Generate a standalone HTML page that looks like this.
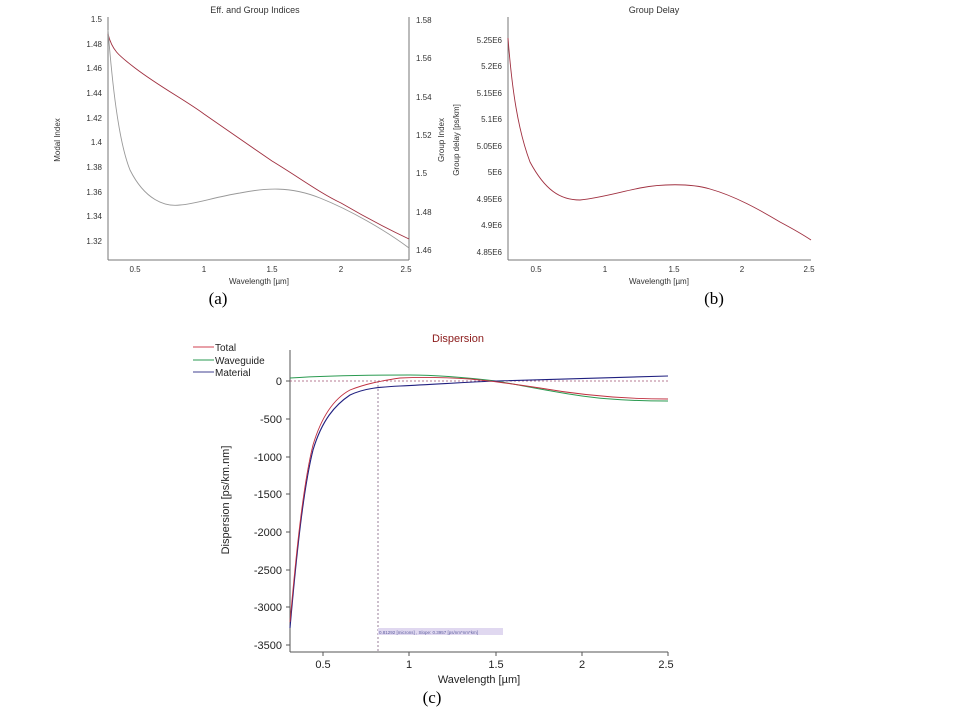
<!DOCTYPE html>
<html><head><style>
body{margin:0;background:#fff;}
svg{display:block;font-family:"Liberation Sans",sans-serif;}
</style></head><body>
<svg width="955" height="708" viewBox="0 0 955 708" xmlns="http://www.w3.org/2000/svg">
<rect width="955" height="708" fill="#fff"/>
<!-- Panel a -->
<text x="255" y="13" font-size="9" text-anchor="middle" fill="#333">Eff. and Group Indices</text>
<g stroke="#777" stroke-width="1" fill="none">
<line x1="108" y1="17" x2="108" y2="260"/><line x1="108" y1="260" x2="409" y2="260"/>
<line x1="409" y1="17" x2="409" y2="260"/>
</g>
<g font-size="8" fill="#333" text-anchor="end">
<text x="102" y="22">1.5</text><text x="102" y="47">1.48</text><text x="102" y="71">1.46</text><text x="102" y="96">1.44</text><text x="102" y="121">1.42</text><text x="102" y="145">1.4</text><text x="102" y="170">1.38</text><text x="102" y="195">1.36</text><text x="102" y="219">1.34</text><text x="102" y="244">1.32</text>
</g>
<g font-size="8" fill="#333">
<text x="416" y="23">1.58</text><text x="416" y="61">1.56</text><text x="416" y="100">1.54</text><text x="416" y="138">1.52</text><text x="416" y="176">1.5</text><text x="416" y="215">1.48</text><text x="416" y="253">1.46</text>
</g>
<g font-size="8" fill="#333" text-anchor="middle">
<text x="135" y="272">0.5</text><text x="204" y="272">1</text><text x="272" y="272">1.5</text><text x="341" y="272">2</text><text x="406" y="272">2.5</text>
<text x="259" y="284">Wavelength [µm]</text>
</g>
<text transform="translate(60,140) rotate(-90)" font-size="8" fill="#333" text-anchor="middle">Modal Index</text>
<text transform="translate(444,140) rotate(-90)" font-size="8" fill="#333" text-anchor="middle">Group Index</text>
<path d="M108,34 C112,50 118,55 135,68 C160,87 185,100 204,114 C230,132 250,146 272,161 C300,178 320,193 341,203 C370,220 390,230 409,239" stroke="#a03040" fill="none" stroke-width="0.9"/>
<path d="M108,30 C112,80 118,140 130,170 C145,200 165,207 180,205 C195,204 215,197 240,193 C265,188 290,186 320,198 C350,210 385,230 409,248" stroke="#999" fill="none" stroke-width="0.9"/>
<text x="218" y="304" font-family="Liberation Serif,serif" font-size="17" text-anchor="middle">(a)</text>
<!-- Panel b -->
<text x="654" y="13" font-size="9" text-anchor="middle" fill="#333">Group Delay</text>
<g stroke="#777" fill="none"><line x1="508" y1="17" x2="508" y2="260"/><line x1="508" y1="260" x2="811" y2="260"/></g>
<g font-size="8" fill="#333" text-anchor="end">
<text x="502" y="43">5.25E6</text><text x="502" y="69">5.2E6</text><text x="502" y="96">5.15E6</text><text x="502" y="122">5.1E6</text><text x="502" y="149">5.05E6</text><text x="502" y="175">5E6</text><text x="502" y="202">4.95E6</text><text x="502" y="228">4.9E6</text><text x="502" y="255">4.85E6</text>
</g>
<g font-size="8" fill="#333" text-anchor="middle">
<text x="536" y="272">0.5</text><text x="605" y="272">1</text><text x="674" y="272">1.5</text><text x="742" y="272">2</text><text x="809" y="272">2.5</text>
<text x="659" y="284">Wavelength [µm]</text>
</g>
<text transform="translate(459,140) rotate(-90)" font-size="8" fill="#333" text-anchor="middle">Group delay [ps/km]</text>
<path d="M508,38 C512,90 518,130 530,162 C545,190 560,200 580,200 C600,198 620,192 640,188 C660,184 690,183 710,189 C735,196 760,210 780,222 C795,230 805,236 811,240" stroke="#a03040" fill="none" stroke-width="0.9"/>
<text x="714" y="304" font-family="Liberation Serif,serif" font-size="17" text-anchor="middle">(b)</text>
<!-- Panel c -->
<text x="458" y="342" font-size="11" text-anchor="middle" fill="#8b1a1a">Dispersion</text>
<g stroke="#555" fill="none"><line x1="290" y1="350" x2="290" y2="652"/><line x1="290" y1="652" x2="668" y2="652"/></g>
<g stroke="#555"><line x1="286" y1="381" x2="290" y2="381"/><line x1="286" y1="419" x2="290" y2="419"/><line x1="286" y1="457" x2="290" y2="457"/><line x1="286" y1="494" x2="290" y2="494"/><line x1="286" y1="532" x2="290" y2="532"/><line x1="286" y1="570" x2="290" y2="570"/><line x1="286" y1="607" x2="290" y2="607"/><line x1="286" y1="645" x2="290" y2="645"/>
<line x1="323" y1="652" x2="323" y2="656"/><line x1="409" y1="652" x2="409" y2="656"/><line x1="496" y1="652" x2="496" y2="656"/><line x1="582" y1="652" x2="582" y2="656"/><line x1="668" y1="652" x2="668" y2="656"/></g>
<g font-size="11" fill="#222" text-anchor="end">
<text x="282" y="385">0</text><text x="282" y="423">-500</text><text x="282" y="461">-1000</text><text x="282" y="498">-1500</text><text x="282" y="536">-2000</text><text x="282" y="574">-2500</text><text x="282" y="611">-3000</text><text x="282" y="649">-3500</text>
</g>
<g font-size="11" fill="#222" text-anchor="middle">
<text x="323" y="668">0.5</text><text x="409" y="668">1</text><text x="496" y="668">1.5</text><text x="582" y="668">2</text><text x="666" y="668">2.5</text>
<text x="479" y="683">Wavelength [µm]</text>
</g>
<text transform="translate(229,500) rotate(-90)" font-size="11" fill="#222" text-anchor="middle">Dispersion [ps/km.nm]</text>
<line x1="290" y1="381" x2="668" y2="381" stroke="#a05070" stroke-dasharray="2,2" stroke-width="0.8"/>
<line x1="378" y1="381" x2="378" y2="652" stroke="#806080" stroke-dasharray="2,2" stroke-width="0.8"/>
<rect x="378" y="628" width="125" height="7" fill="#e0d8f0"/>
<text x="379" y="634" font-size="4.5" fill="#6060a0">0.81292 [microns] , Slope: 0.3957 [ps/nm*nm*km]</text>
<path d="M290,378 C320,376 350,375 410,375 C440,375 470,378 496,381 C530,387 560,393 582,396 C610,400 640,401 668,401" stroke="#2a9a50" fill="none"/>
<path d="M290,628 C296,560 303,490 313,450 C322,420 335,405 350,395 C365,388 380,387 400,386 C440,384 470,382 496,381 C540,380 600,378 668,376" stroke="#202080" fill="none" stroke-width="1.1"/>
<path d="M290,622 C296,555 303,485 313,445 C322,415 335,398 350,390 C365,384 380,381 400,378 C420,377 440,377 470,379 C490,381 500,382 540,388 C580,395 620,399 668,399" stroke="#c03040" fill="none" stroke-width="0.9"/>
<g font-size="10" fill="#222">
<line x1="193" y1="347" x2="214" y2="347" stroke="#d04050"/><text x="215" y="351">Total</text>
<line x1="193" y1="360" x2="214" y2="360" stroke="#2a9a50"/><text x="215" y="364">Waveguide</text>
<line x1="193" y1="372" x2="214" y2="372" stroke="#404090"/><text x="215" y="376">Material</text>
</g>
<text x="432" y="703" font-family="Liberation Serif,serif" font-size="17" text-anchor="middle">(c)</text>
</svg>
</body></html>
